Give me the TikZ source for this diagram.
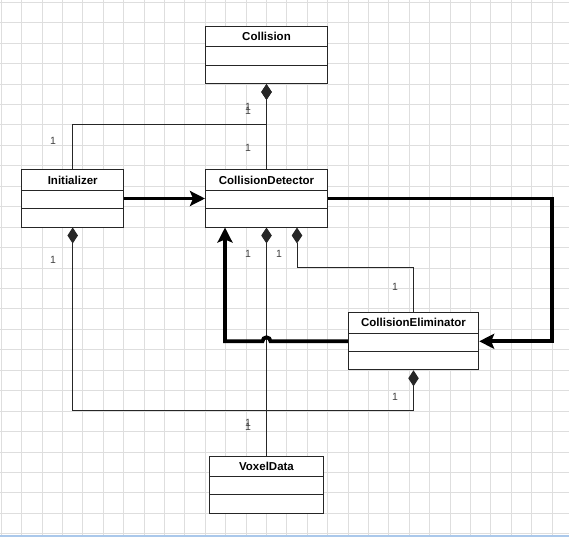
\documentclass[tikz,border=0pt]{standalone}
\usepackage{fontspec}
\setmainfont{Liberation Sans}
\usetikzlibrary{arrows.meta}

\definecolor{gridgray}{RGB}{222,222,222}
\definecolor{edgeblue}{RGB}{170,200,235}

\tikzset{
    gridline/.style={gridgray, line width=0.9pt},
    umlclass/.style={draw=black!85, line width=1pt, fill=white, minimum height=57pt, inner sep=0pt,
        path picture={
            \draw[black!85, line width=1pt] ([yshift=-20.5pt]path picture bounding box.north west)
                -- ([yshift=-20.5pt]path picture bounding box.north east);
            \draw[black!85, line width=1pt] ([yshift=-38.8pt]path picture bounding box.north west)
                -- ([yshift=-38.8pt]path picture bounding box.north east);
        }},
    classname/.style={anchor=north, inner sep=0pt, minimum height=20.5pt, font=\bfseries\fontsize{11.5}{13}\selectfont},
    compo/.style={black!85, line width=1pt, {Diamond[length=16pt,width=10.5pt]}-},
    compoboth/.style={black!85, line width=1pt, {Diamond[length=16pt,width=10.5pt]}-{Diamond[length=16pt,width=10.5pt]}},
    nav/.style={black, line width=3.8pt, -{Stealth[length=15pt,width=15pt,inset=3pt]}},
    mult/.style={font=\fontsize{10.5}{12}\selectfont, text=black!75, inner sep=0pt}
}

\begin{document}
\begin{tikzpicture}[x=1pt, y=-1pt]
    \useasboundingbox (0,0) rectangle (569,537);

    % Raster
    \foreach \i in {0,...,27}
        \draw[gridline] (1.3+20.4*\i,0) -- (1.3+20.4*\i,537);
    \foreach \j in {0,...,26}
        \draw[gridline] (0,2.3+20.44*\j) -- (569,2.3+20.44*\j);
    \draw[edgeblue, line width=1.5pt] (0,536) -- (569,536);

    % Klassen
    \node[umlclass, minimum width=122pt, label={[classname]north:Collision}] (collision) at (266.5,55) {};
    \node[umlclass, minimum width=102pt, label={[classname]north:Initializer}] (initializer) at (72.7,198.5) {};
    \node[umlclass, minimum width=122pt, label={[classname]north:CollisionDetector}] (detector) at (266.5,198.5) {};
    \node[umlclass, minimum width=130.4pt, label={[classname]north:CollisionEliminator}] (eliminator) at (413.5,341.3) {};
    \node[umlclass, minimum width=114pt, label={[classname]north:VoxelData}] (voxel) at (266.5,484.5) {};

    % Hilfspunkte
    \coordinate (topjoin) at (266.5,125);
    \coordinate (lowrail) at (240,410.5);
    \coordinate (midrail) at (297,267.5);
    \coordinate (rturn) at (552.3,270);
    \coordinate (hop) at (266.5,341.3);
    \coordinate (lturn) at (225,341.3);

    % Kompositionen
    \draw[compo] (collision.south) -- (detector.north);
    \draw[compo] (collision.south) -- (topjoin) -| (initializer.north);
    \draw[compoboth] (initializer.south) |- (lowrail) -| (eliminator.south);
    \draw[compo] (detector.south) -- (voxel.north);
    \draw[compo] (detector.south -| midrail) |- (midrail) -| (eliminator.north);

    % Assoziationen
    \draw[nav] (initializer) -- (detector);
    \draw[nav] (detector.east) -| (rturn) |- (eliminator.east);
    \draw[nav] (eliminator.west) -- ([xshift=4pt]hop) arc[start angle=0, end angle=180, radius=4pt]
        -- (lturn) -- (detector.south -| lturn);

    % Multiplizitaeten
    \node[mult] (m1) at (248,106.5) {1};
    \node[mult] (m2) at (248,111) {1};
    \node[mult] (m3) at (248,147.5) {1};
    \node[mult] (m4) at (53,140.5) {1};
    \node[mult] (m5) at (53,259.5) {1};
    \node[mult] (m6) at (248,254) {1};
    \node[mult] (m7) at (279,254) {1};
    \node[mult] (m8) at (395,286.5) {1};
    \node[mult] (m9) at (395,397) {1};
    \node[mult] (m10) at (248,423) {1};
    \node[mult] (m11) at (248,427) {1};
\end{tikzpicture}
\end{document}
